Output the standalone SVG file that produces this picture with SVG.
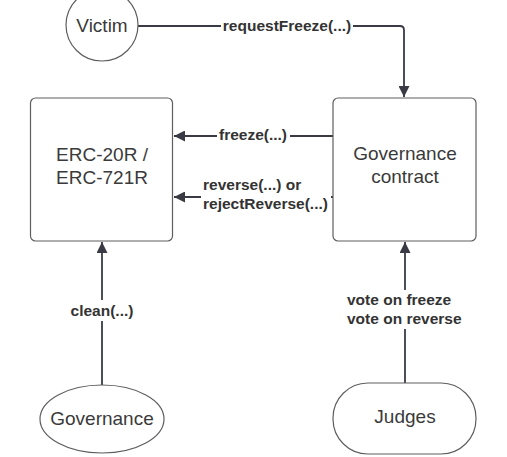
<svg xmlns="http://www.w3.org/2000/svg" width="507" height="457" viewBox="0 0 507 457">
<defs>
<style>
.n{fill:#fff;stroke:#5e5e5e;stroke-width:1.2}
.t{font-family:"Liberation Sans",Arial,sans-serif;font-size:19px;fill:#3a3a3a;text-anchor:middle}
.e{fill:none;stroke:#3a3a44;stroke-width:1.8}
.l{font-family:"Liberation Sans",Arial,sans-serif;font-size:15.5px;font-weight:bold;fill:#333;text-anchor:middle}
.s{text-anchor:start}
.bg{fill:#fff}
</style>
<marker id="a" viewBox="0 0 10 10" refX="10" refY="5" markerWidth="11" markerHeight="11" markerUnits="userSpaceOnUse" orient="auto">
<path d="M0,0 L10,5 L0,10 z" fill="#3a3a44"/>
</marker>
</defs>
<rect width="507" height="457" fill="#fff"/>
<g id="connectors">
<path class="e" d="M138,26 H400 Q404,26 404,30 V97" marker-end="url(#a)"/>
<rect class="bg" x="221" y="17" width="132" height="19"/>
<text class="l" x="287" y="31">requestFreeze(...)</text>
<path class="e" d="M333,136 H174" marker-end="url(#a)"/>
<rect class="bg" x="217" y="126" width="73" height="19"/>
<text class="l" x="253" y="140">freeze(...)</text>
<path class="e" d="M333,197 H174" marker-end="url(#a)"/>
<rect class="bg" x="201" y="177" width="130" height="38"/>
<text class="l s" x="203" y="190">reverse(...) or</text>
<text class="l s" x="203" y="209">rejectReverse(...)</text>
<path class="e" d="M102,385 V242" marker-end="url(#a)"/>
<rect class="bg" x="68" y="300" width="68" height="21"/>
<text class="l" x="102" y="316">clean(...)</text>
<path class="e" d="M405,383 V242" marker-end="url(#a)"/>
<rect class="bg" x="345" y="290" width="120" height="39"/>
<text class="l s" x="347" y="305">vote on freeze</text>
<text class="l s" x="347" y="324">vote on reverse</text>
</g>
<g id="victim">
<circle class="n" cx="102" cy="25" r="36"/>
<text class="t" x="102" y="32">Victim</text>
</g>
<g id="erc">
<rect class="n" x="30.5" y="98" width="142" height="143" rx="5"/>
<text class="t" x="102" y="161">ERC-20R /</text>
<text class="t" x="102" y="184">ERC-721R</text>
</g>
<g id="governance-contract">
<rect class="n" x="333" y="98" width="143" height="143" rx="5"/>
<text class="t" x="405" y="160">Governance</text>
<text class="t" x="405" y="183">contract</text>
</g>
<g id="governance">
<ellipse class="n" cx="102" cy="419" rx="62" ry="34"/>
<text class="t" x="102" y="425">Governance</text>
</g>
<g id="judges">
<rect class="n" x="333" y="383" width="143" height="71" rx="35"/>
<text class="t" x="405" y="423">Judges</text>
</g>
</svg>
